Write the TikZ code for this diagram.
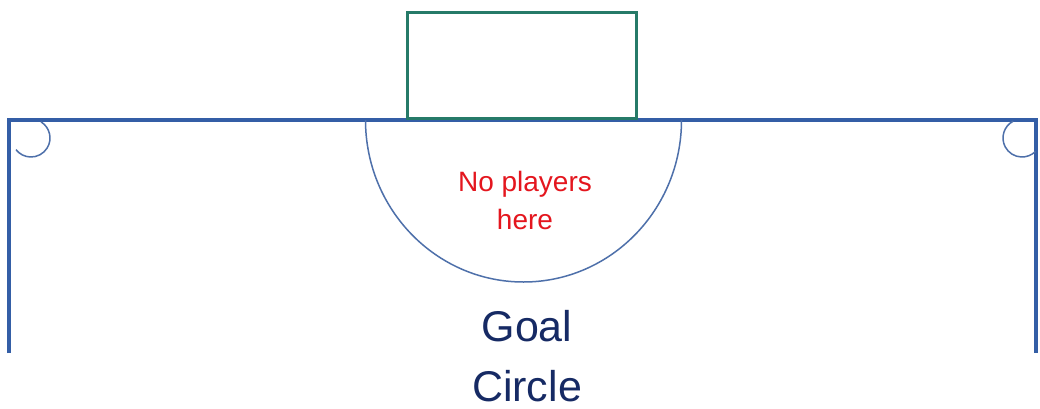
\documentclass[tikz,border=0pt]{standalone}
\usepackage{fontspec}
\setmainfont{Liberation Sans}
\definecolor{fieldblue}{RGB}{52,94,166}
\definecolor{arcblue}{RGB}{78,112,170}
\definecolor{goalgreen}{RGB}{38,122,104}
\definecolor{noplayred}{RGB}{228,22,30}
\definecolor{navy}{RGB}{22,42,100}
\begin{document}
\begin{tikzpicture}[x=1pt,y=1pt,
  fieldline/.style={draw=fieldblue,line width=4pt},
  thinarc/.style={draw=arcblue,line width=1.5pt},
  goalbox/.style={draw=goalgreen,line width=3pt},
  redtext/.style={text=noplayred,font=\fontsize{28}{38}\selectfont,align=center,inner sep=0pt},
  navytext/.style={text=navy,font=\fontsize{43}{60}\selectfont,align=center,inner sep=0pt}]
\useasboundingbox (0,0) rectangle (1040,408);
\fill[white] (0,0) rectangle (1040,408);
% field lines
\draw[fieldline,line join=miter] (9,55) -- (9,288) -- (1036,288) -- (1036,55);
% corner arcs
\draw[thinarc] (31,270) ++(58:19) arc (58:-142:19);
\draw[thinarc] (1022,270) ++(118:19) arc (118:315:19);
% goal circle
\draw[thinarc] (365.5,288) arc[start angle=180,end angle=360,x radius=158,y radius=162];
% goal
\draw[goalbox] (407,290) rectangle (636,395);
% texts
\node[redtext] (noplayers) at (525,208) {No players\\here};
\node[navytext] (goalcircle) at (527,52) {Goal\\Circle};
\end{tikzpicture}
\end{document}
